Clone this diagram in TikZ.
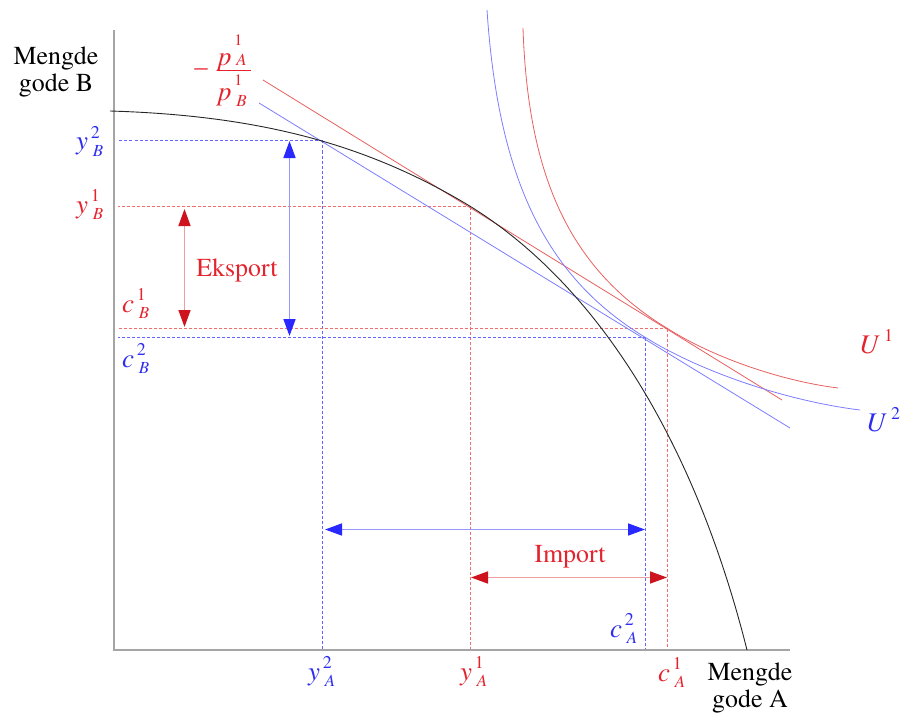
\documentclass[tikz,border=0pt]{standalone}
\usepackage{fontspec}
\setmainfont{texgyretermes}[Extension=.otf, UprightFont=*-regular, ItalicFont=*-italic, BoldFont=*-bold, BoldItalicFont=*-bolditalic]
\usetikzlibrary{arrows.meta}
\definecolor{labred}{RGB}{228,35,45}
\definecolor{labblue}{RGB}{45,45,240}
\definecolor{arrred}{RGB}{205,20,30}
\definecolor{arrblue}{RGB}{40,40,255}
\definecolor{linered}{RGB}{232,95,95}
\definecolor{lineblue}{RGB}{125,125,255}
\definecolor{dashred}{RGB}{240,110,110}
\definecolor{dashblue}{RGB}{100,100,255}
\definecolor{shaftred}{RGB}{235,160,160}
\definecolor{shaftblue}{RGB}{150,150,255}
\definecolor{axisgray}{RGB}{165,165,165}
% letter with stacked superscript and subscript
\newcommand\mlbl[3]{\textit{#1}\hspace{0.1em}\rlap{\raisebox{0.44em}{\fontsize{18}{18}\selectfont #2}}\raisebox{-0.24em}{\fontsize{17}{17}\selectfont\hspace{0.12em}\textit{#3}}}
% numerator and denominator of the price ratio
\newcommand\nlbl[3]{\textit{#1}\hspace{0.1em}\rlap{\raisebox{0.75em}{\fontsize{16}{16}\selectfont #2}}\raisebox{0em}{\fontsize{17}{17}\selectfont\hspace{0.12em}\textit{#3}}}
\newcommand\dlbl[3]{\textit{#1}\hspace{0.1em}\rlap{\raisebox{0.56em}{\fontsize{16}{16}\selectfont #2}}\raisebox{-0.2em}{\fontsize{17}{17}\selectfont\hspace{0.12em}\textit{#3}}}
\newcommand\ulbl[2]{\textit{#1}\hspace{0.16em}\raisebox{0.42em}{\fontsize{18}{18}\selectfont #2}}
\begin{document}
\begin{tikzpicture}[x=1bp,y=-1bp,
  lab/.style={font=\fontsize{27}{30}\selectfont, inner sep=0pt, anchor=base west},
  redlab/.style={lab, text=labred},
  bluelab/.style={lab, text=labblue},
  txt/.style={font=\fontsize{26}{28}\selectfont, align=center, inner sep=0pt},
  axisline/.style={draw=axisgray, line width=1.6bp},
  ppf/.style={draw=black!85, line width=0.9bp},
  redline/.style={draw=linered, line width=0.8bp},
  blueline/.style={draw=lineblue, line width=0.8bp},
  reddash/.style={draw=dashred, line width=1bp, dash pattern=on 3bp off 2bp},
  bluedash/.style={draw=dashblue, line width=1bp, dash pattern=on 3bp off 2bp},
  fracbar/.style={draw=labred, line width=1bp},
  redarrow/.style={draw=shaftred, line width=1.6bp, >={Triangle[length=17bp,width=12bp,color=arrred]}, <->},
  bluearrow/.style={draw=shaftblue, line width=1.6bp, >={Triangle[length=17bp,width=12bp,color=arrblue]}, <->},
]
\useasboundingbox (0,0) rectangle (901,713);

% key points
\coordinate (O) at (114,650);
\coordinate (Ytop) at (114,30);
\coordinate (Xend) at (790,650);
\coordinate (P2) at (322.5,140.5);
\coordinate (P1) at (470.5,206.5);
\coordinate (C1) at (667.5,328.5);
\coordinate (C2) at (645.5,337.5);

% dashed guide lines
\draw[bluedash] (P2) -- ([xshift=4bp]O |- P2);
\draw[bluedash] (P2) -- (P2 |- O);
\draw[reddash] (P1) -- ([xshift=4bp]O |- P1);
\draw[reddash] (P1) -- (P1 |- O);
\draw[reddash] (C1) -- ([xshift=4bp]O |- C1);
\draw[reddash] (C1) -- (C1 |- O);
\draw[bluedash] (C2) -- ([xshift=4bp]O |- C2);
\draw[bluedash] (C2) -- (C2 |- O);

% axes
\draw[axisline] (Ytop) -- (O) -- (Xend);

% price lines
\coordinate (R1a) at (263,80);
\coordinate (R1b) at (782,400);
\coordinate (B1a) at (259,103);
\coordinate (B1b) at (790,428);
\draw[redline] (R1a) -- (R1b);
\draw[blueline] (B1a) -- (B1b);

% production possibility frontier
\coordinate (Fa) at (110,111);
\coordinate (Fe) at (747,650);
\draw[ppf] (Fa) .. controls (260,115.5) and (368,144.4) .. (P1)
  .. controls (597.4,285.4) and (694.4,440.7) .. (Fe);

% indifference curves
\coordinate (U1a) at (523,28);
\coordinate (U1e) at (838,388);
\coordinate (U2a) at (487,10);
\coordinate (U2e) at (860,410);
\draw[redline] (U1a) .. controls (528,179) and (571,270) .. (C1)
  .. controls (713,357.5) and (781.6,381) .. (U1e);
\draw[blueline] (U2a) .. controls (498.2,178.7) and (545.6,277.2) .. (C2)
  .. controls (701,372) and (787,401) .. (U2e);

% arrows
\coordinate (EkT) at (184.5,209);
\coordinate (EkB) at (184.5,327);
\coordinate (BvT) at (289.5,141);
\coordinate (BvB) at (289.5,336);
\coordinate (BhL) at (325,529.5);
\coordinate (BhR) at (645,529.5);
\coordinate (IhL) at (471,577.5);
\coordinate (IhR) at (667,577.5);
\draw[redarrow] (EkT) -- (EkB);
\draw[bluearrow] (BvT) -- (BvB);
\draw[bluearrow] (BhL) -- (BhR);
\draw[redarrow] (IhL) -- (IhR);

% texts
\node[txt] (mB) at (56,72) {Mengde\\gode B};
\node[txt] (mA) at (750,688) {Mengde\\gode A};
\node[txt, text=labred] (eks) at (237,270) {Eksport};
\node[txt, text=labred] (imp) at (570,557) {Import};

% price ratio
\node[redlab, anchor=center] (minus) at (201,72.5) {–};
\node[redlab] (num) at (218,66) {\nlbl{p}{1}{A}};
\node[redlab] (den) at (218,101) {\dlbl{p}{1}{B}};
\coordinate (barL) at (217,70.5);
\coordinate (barR) at (251,70.5);
\draw[fracbar] (barL) -- (barR);

% axis labels
\node[bluelab] (yB2) at (76,150) {\mlbl{y}{2}{B}};
\node[redlab] (yB1) at (76,213) {\mlbl{y}{1}{B}};
\node[redlab] (cB1) at (122,312) {\mlbl{c}{1}{B}};
\node[bluelab] (cB2) at (122,367) {\mlbl{c}{2}{B}};
\node[bluelab] (yA2) at (308,680) {\mlbl{y}{2}{A}};
\node[redlab] (yA1) at (460,680) {\mlbl{y}{1}{A}};
\node[redlab] (cA1) at (658,681) {\mlbl{c}{1}{A}};
\node[bluelab] (cA2) at (610,637) {\mlbl{c}{2}{A}};
\node[redlab] (U1) at (859,353) {\ulbl{U}{1}};
\node[bluelab] (U2) at (866,431) {\ulbl{U}{2}};
\end{tikzpicture}
\end{document}
